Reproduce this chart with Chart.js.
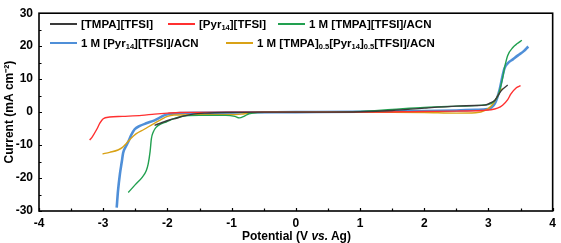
<!DOCTYPE html>
<html><head><meta charset="utf-8">
<script src="https://cdn.jsdelivr.net/npm/chart.js@4.4.1/dist/chart.umd.min.js"></script>
<style>
html,body{margin:0;padding:0;background:#fff;}
#wrap{position:relative;width:561px;height:243px;}
canvas{position:absolute;left:0;top:0;}
.lg{position:absolute;font:bold 11.5px "Liberation Sans",Arial,sans-serif;color:#000;white-space:nowrap;line-height:14px;}
.lg .ln{position:absolute;top:7px;width:27px;height:1.5px;}
.lg .tx{position:absolute;top:0;}
.lg sub{font-size:7.5px;vertical-align:-2px;line-height:0;}
#xt{position:absolute;top:229px;left:0;width:593px;text-align:center;font:bold 12px "Liberation Sans",Arial,sans-serif;color:#000;}
</style></head>
<body><div id="wrap"><canvas id="c" width="561" height="243"></canvas>
<div id="legend"></div>
<div id="xt">Potential (V <i>vs.</i> Ag)</div>
</div>
<script>
// ---- data ----
const seriesNames = ["[TMPA][TFSI]","[Pyr<sub>14</sub>][TFSI]","1 M [TMPA][TFSI]/ACN","1 M [Pyr<sub>14</sub>][TFSI]/ACN","1 M [TMPA]<sub>0.5</sub>[Pyr<sub>14</sub>]<sub>0.5</sub>[TFSI]/ACN"];
const seriesColors = ["#3a3a3a","#ff3030","#22a050","#4f8fd8","#d9a216"];
const seriesWidths = [1.4,1.4,1.4,2.6,1.4];

const blackX = [-2.2,-2.1,-1.97,-1.85,-1.77,-1.6,-1.4,-1.0,-0.5,0,0.5,1.0,1.5,2.0,2.5,2.8,2.94,3.02,3.10,3.20,3.30];
const blackY = [-4.0,-3.3,-2.4,-1.8,-1.3,-0.6,-0.3,-0.1,0,0,0,0.1,0.5,1.2,1.8,2.0,2.1,2.7,3.6,6.5,8.2];

const redX = [-3.21,-3.17,-3.1,-3.05,-3.0,-2.9,-2.7,-2.4,-2.2,-2.0,-1.8,-1.0,0,1.0,2.0,2.5,2.9,3.04,3.14,3.22,3.3,3.35,3.43,3.50];
const redY = [-8.5,-7.5,-5.2,-3.3,-2.0,-1.5,-1.3,-1.0,-0.6,-0.3,-0.1,0,0,0,0.2,0.3,0.5,0.7,1.2,2.1,3.8,5.5,7.3,8.0];

const greenX = [-2.61,-2.5,-2.39,-2.33,-2.30,-2.27,-2.25,-2.22,-2.18,-2.1,-2.02,-1.9,-1.71,-1.5,-1.3,-1.09,-0.95,-0.88,-0.8,-0.73,-0.6,0,0.5,1.0,1.5,2.0,2.5,2.9,3.04,3.10,3.15,3.21,3.26,3.30,3.38,3.45,3.52];
const greenY = [-24.4,-22.0,-19.7,-17.8,-15.8,-12.0,-8.1,-6.0,-4.7,-3.6,-3.0,-2.0,-1.1,-1.0,-1.0,-1.0,-1.3,-1.75,-1.2,-0.5,-0.1,0,0,0.2,0.8,1.4,1.8,2.1,2.6,3.5,5.0,9.4,14.3,17.2,19.6,20.8,21.8];

const blueX = [-2.79,-2.77,-2.74,-2.71,-2.69,-2.65,-2.61,-2.56,-2.51,-2.43,-2.33,-2.2,-2.12,-2.05,-1.97,-1.8,-1.5,-1.0,0,1.0,2.0,2.5,2.8,2.99,3.05,3.10,3.17,3.22,3.25,3.30,3.38,3.46,3.55,3.62];
const blueY = [-29,-24,-18.8,-15,-12.4,-10.5,-9.0,-6.8,-5.2,-4.2,-3.4,-2.5,-1.7,-1.0,-0.6,-0.3,-0.2,-0.1,0,0.1,0.3,0.5,0.7,0.9,1.5,2.6,6.5,11,13.3,14.8,16.0,17.2,18.5,19.9];

const orangeX = [-3.01,-2.9,-2.77,-2.7,-2.64,-2.57,-2.49,-2.36,-2.23,-2.1,-2.0,-1.9,-1.6,-1.3,-1.0,-0.85,-0.7,-0.5,0,1.0,2.0,2.5,2.8,2.95,3.05,3.12,3.18,3.22];
const orangeY = [-12.7,-12.2,-11.5,-10.7,-9.5,-8.0,-6.6,-5.2,-3.7,-2.3,-1.3,-0.9,-0.8,-0.8,-0.8,-0.6,-0.2,0,0,0,-0.1,-0.3,-0.2,0.5,2.0,4.0,6.3,7.2];

const xTicks = [-4,-3,-2,-1,0,1,2,3,4];
const yTicks = [-30,-20,-10,0,10,20,30];

// ---- build ----
const xs = [blackX,redX,greenX,blueX,orangeX];
const ys = [blackY,redY,greenY,blueY,orangeY];
const datasets = xs.map((xa,i)=>({
  label: seriesNames[i].replace(/<[^>]+>/g,''),
  data: xa.map((x,j)=>({x:x,y:ys[i][j]})),
  borderColor: seriesColors[i],
  borderWidth: seriesWidths[i],
  pointRadius: 0,
  showLine: true,
  fill: false,
  cubicInterpolationMode: 'monotone'
}));
// draw order: put blue on top like reference
const order = [0,1,2,4,3];

const frame = {
  id:'frame',
  afterDatasetsDraw(chart){
    const {ctx, chartArea:a, scales:{x,y}} = chart;
    ctx.save();
    ctx.strokeStyle = '#000';
    ctx.lineWidth = 1.6;
    ctx.strokeRect(a.left, a.top, a.right-a.left, a.bottom-a.top);
    ctx.lineWidth = 1.2;
    ctx.beginPath();
    for (let v=xTicks[0]; v<=xTicks[xTicks.length-1]+1e-9; v+=0.5){
      const px = Math.round(x.getPixelForValue(v))+0.5;
      const len = (Math.abs(v-Math.round(v))<1e-9)?3:2.5;
      ctx.moveTo(px,a.bottom); ctx.lineTo(px,a.bottom-len);
    }
    for (let v=yTicks[0]; v<=yTicks[yTicks.length-1]+1e-9; v+=5){
      const py = Math.round(y.getPixelForValue(v))+0.5;
      const len = (Math.abs(v/10-Math.round(v/10))<1e-9)?3:2.5;
      ctx.moveTo(a.left,py); ctx.lineTo(a.left+len,py);
    }
    ctx.stroke();
    ctx.restore();
  }
};

new Chart(document.getElementById('c'), {
  type:'scatter',
  data:{datasets: order.map(i=>datasets[i])},
  options:{
    responsive:false, animation:false,
    layout:{padding:{top:6,right:7,left:0,bottom:0}},
    plugins:{legend:{display:false}, tooltip:{enabled:false}},
    scales:{
      x:{type:'linear', min:xTicks[0], max:xTicks[xTicks.length-1],
         grid:{display:false, drawTicks:false}, border:{display:false},
         afterBuildTicks(s){ s.ticks = xTicks.map(v=>({value:v})); },
         afterFit(s){ s.height = 32; },
         ticks:{color:'#000', padding:5, font:{family:'"Liberation Sans", Arial, sans-serif', weight:'bold', size:12}}},
      y:{type:'linear', min:yTicks[0], max:yTicks[yTicks.length-1],
         grid:{display:false, drawTicks:false}, border:{display:false},
         afterBuildTicks(s){ s.ticks = yTicks.map(v=>({value:v})); },
         afterFit(s){ s.width = 39; },
         title:{display:true, text:'Current (mA cm\u207B\u00B2)', color:'#000', padding:{top:2,bottom:0}, font:{family:'"Liberation Sans", Arial, sans-serif', weight:'bold', size:12}},
         ticks:{color:'#000', padding:6, font:{family:'"Liberation Sans", Arial, sans-serif', weight:'bold', size:12}}}
    }
  },
  plugins:[frame]
});

// legend (HTML, for subscripts)
const legendPos = [[50,17],[168,17],[278,17],[50,36],[226,36]];
const lg = document.getElementById('legend');
seriesNames.forEach((n,i)=>{
  const d = document.createElement('div');
  d.className='lg';
  d.style.left = legendPos[i][0]+'px';
  d.style.top = legendPos[i][1]+'px';
  const lw = seriesWidths[i]>2?2.6:1.5;
  d.innerHTML = '<span class="ln" style="background:'+seriesColors[i]+';height:'+lw+'px;top:'+(7-lw/2)+'px"></span><span class="tx" style="left:31px">'+n+'</span>';
  lg.appendChild(d);
});
</script>
</body></html>
